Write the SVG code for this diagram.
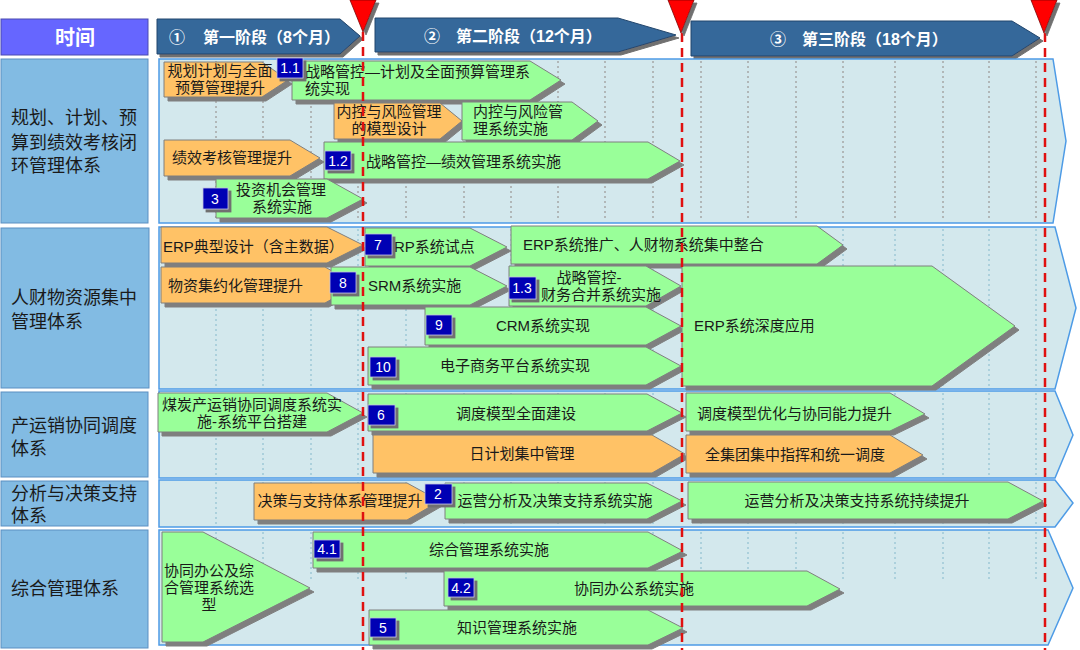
<svg xmlns="http://www.w3.org/2000/svg" width="1080" height="650" viewBox="0 0 1080 650">
<defs>
<filter id="sh" x="-0.05" y="-0.1" width="1.15" height="1.4">
<feFlood flood-color="#7f7f7f"/><feComposite in2="SourceAlpha" operator="in"/><feOffset dx="4" dy="4" result="s"/>
<feMerge><feMergeNode in="s"/><feMergeNode in="SourceGraphic"/></feMerge></filter>
<filter id="sh2" x="-0.1" y="-0.1" width="1.3" height="1.4">
<feFlood flood-color="#6f6f6f"/><feComposite in2="SourceAlpha" operator="in"/><feOffset dx="3" dy="3" result="s"/>
<feMerge><feMergeNode in="s"/><feMergeNode in="SourceGraphic"/></feMerge></filter>
<style>
text{font-family:"Liberation Sans","Noto Sans CJK SC",sans-serif;}
.g{fill:#99ff99;stroke:#7f7f7f;stroke-width:1;filter:url(#sh);}
.o{fill:#ffc266;stroke:#7f7f7f;stroke-width:1;filter:url(#sh);}
.t{font-size:15px;fill:#1a1a1a;}
.m{text-anchor:middle;}
.b{fill:#0000b4;stroke:#c0c0e0;stroke-width:0.8;filter:url(#sh2);}
.bt{font-family:"Liberation Sans",sans-serif;font-size:14px;fill:#ffffff;text-anchor:middle;}
.panel{fill:#d3e8ed;stroke:#4d9be6;stroke-width:1.5;}
.lab{fill:#82bbe3;stroke:#5b8fc2;stroke-width:1;}
.lt{font-size:18px;fill:#1a1a1a;}
.ph{fill:#35679a;stroke:#24476d;stroke-width:1;filter:url(#sh2);}
.pt{font-size:16px;font-weight:bold;fill:#ffffff;}
.dot1{stroke:#a6a6a6;stroke-width:1.5;stroke-dasharray:2,3;fill:none;}
.dot2{stroke:#9ec8d6;stroke-width:1.5;stroke-dasharray:2,3;fill:none;}
.ms{stroke:#e01010;stroke-width:2.5;stroke-dasharray:9,6;fill:none;}
.tri{fill:#ff0000;stroke:#800000;stroke-width:0.8;filter:url(#sh2);}
</style>
</defs>
<rect x="0" y="0" width="1080" height="650" fill="#ffffff"/>

<!-- header -->
<g id="time-header">
<rect x="1" y="19" width="147" height="36" fill="#6666ff" stroke="#4a4ab0" stroke-width="1"/>
<text x="75" y="45" font-size="20" font-weight="bold" fill="#ffffff" text-anchor="middle">时间</text>
</g>
<g id="phase1">
<polygon class="ph" points="157,19 340,19 360,36 340,54 157,54"/>
<text class="pt" y="43"><tspan x="169">①</tspan><tspan x="203">第一阶段（8个月）</tspan></text>
</g>
<g id="phase2">
<polygon class="ph" points="375,18 618,18 676,35 618,52 375,52"/>
<text class="pt" y="42"><tspan x="424">②</tspan><tspan x="456">第二阶段（12个月）</tspan></text>
</g>
<g id="phase3">
<polygon class="ph" points="691,21 1012,21 1040,38 1012,56 691,56"/>
<text class="pt" y="45"><tspan x="770">③</tspan><tspan x="802">第三阶段（18个月）</tspan></text>
</g>

<!-- row labels -->
<g id="label-row1"><rect class="lab" x="1" y="59" width="147" height="164"/>
<text class="lt"><tspan x="11" y="124">规划、计划、预</tspan><tspan x="11" y="149">算到绩效考核闭</tspan><tspan x="11" y="172">环管理体系</tspan></text></g>
<g id="label-row2"><rect class="lab" x="1" y="228" width="148" height="160"/>
<text class="lt"><tspan x="11" y="304">人财物资源集中</tspan><tspan x="11" y="328">管理体系</tspan></text></g>
<g id="label-row3"><rect class="lab" x="1" y="392" width="147" height="85"/>
<text class="lt"><tspan x="11" y="432">产运销协同调度</tspan><tspan x="11" y="455">体系</tspan></text></g>
<g id="label-row4"><rect class="lab" x="1" y="481" width="147" height="45"/>
<text class="lt"><tspan x="11" y="500">分析与决策支持</tspan><tspan x="11" y="522">体系</tspan></text></g>
<g id="label-row5"><rect class="lab" x="1" y="530" width="147" height="118"/>
<text class="lt" x="11" y="595">综合管理体系</text></g>

<!-- row panels -->
<g id="panels">
<polygon class="panel" points="159,59 1053,59 1066,141 1053,223 159,223"/>
<polygon class="panel" points="159,227 1055,227 1076,308 1055,389 159,389"/>
<polygon class="panel" points="159,391 1055,391 1073,435 1055,478 159,478"/>
<polygon class="panel" points="159,480 1055,480 1073,503 1055,527 159,527"/>
<polygon class="panel" points="159,530 1048,530 1073,588 1048,645 159,645"/>
</g>

<g id="grid">
<path class="dot1" d="M216,61V221M263,61V221M311,61V221M358,61V221M406,61V221M464,61V221M511,61V221M558,61V221M605,61V221M653,61V221M701,61V221M748,61V221M796,61V221M843,61V221M895,61V221M943,61V221M989,61V221M1036,61V221"/>
<path class="dot2" d="M216,229V387M263,229V387M311,229V387M358,229V387M406,229V387M464,229V387M511,229V387M558,229V387M605,229V387M653,229V387M701,229V387M748,229V387M796,229V387M843,229V387M895,229V387M943,229V387M989,229V387M1036,229V387"/>
<path class="dot2" d="M216,393V476M263,393V476M311,393V476M358,393V476M406,393V476M464,393V476M511,393V476M558,393V476M605,393V476M653,393V476M701,393V476M748,393V476M796,393V476M843,393V476M895,393V476M943,393V476M989,393V476M1036,393V476"/>
<path class="dot2" d="M216,482V525M263,482V525M311,482V525M358,482V525M406,482V525M464,482V525M511,482V525M558,482V525M605,482V525M653,482V525M701,482V525M748,482V525M796,482V525M843,482V525M895,482V525M943,482V525M989,482V525M1036,482V525"/>
<path class="dot2" d="M216,532V580M263,532V580M311,532V580M358,532V580M406,532V580M464,532V580M511,532V580M558,532V580M605,532V580M653,532V580M701,532V580M748,532V580M796,532V580M843,532V580M895,532V580M943,532V580M989,532V580M1036,532V580"/>
</g>

<!-- row 1 -->
<g id="n-plan-budget"><polygon class="o" points="164,62 262,62 288,80 262,97 164,97"/>
<text class="t m"><tspan x="220" y="76">规划计划与全面</tspan><tspan x="220" y="93">预算管理提升</tspan></text></g>
<g id="n-strategy-plan"><polygon class="g" points="292,61 530,61 561,80 530,100 292,100"/>
<text class="t"><tspan x="305" y="77">战略管控—计划及全面预算管理系</tspan><tspan x="305" y="94">统实现</tspan></text></g>
<g id="b-1-1"><rect class="b" x="277" y="58" width="26" height="20"/><text class="bt" x="290" y="73">1.1</text></g>
<g id="n-risk-model"><polygon class="o" points="334,103 440,103 462,121 440,139 334,139"/>
<text class="t m"><tspan x="389" y="117">内控与风险管理</tspan><tspan x="389" y="134">的模型设计</tspan></text></g>
<g id="n-risk-system"><polygon class="g" points="462,102 572,102 598,121 572,140 462,140"/>
<text class="t"><tspan x="473" y="117">内控与风险管</tspan><tspan x="473" y="134">理系统实施</tspan></text></g>
<g id="n-perf-up"><polygon class="o" points="164,140 290,140 320,158 290,176 164,176"/>
<text class="t" x="172" y="163">绩效考核管理提升</text></g>
<g id="n-strategy-perf"><polygon class="g" points="324,142 648,142 680,161 648,179 324,179"/>
<text class="t" x="366" y="167">战略管控—绩效管理系统实施</text></g>
<g id="b-1-2"><rect class="b" x="325" y="151" width="26" height="19"/><text class="bt" x="338" y="166">1.2</text></g>
<g id="n-invest"><polygon class="g" points="216,179 327,179 363,199 327,218 216,218"/>
<text class="t m"><tspan x="281" y="195">投资机会管理</tspan><tspan x="282" y="212">系统实施</tspan></text></g>
<g id="b-3"><rect class="b" x="203" y="188" width="25" height="21"/><text class="bt" x="215" y="204">3</text></g>

<!-- row 2 -->
<g id="n-erp-design"><polygon class="o" points="161,227 327,227 363,245 327,263 161,263"/>
<text class="t" x="163" y="252">ERP典型设计（含主数据）</text></g>
<g id="n-erp-pilot"><polygon class="g" points="365,228 470,228 507,247 470,266 365,266"/>
<text class="t" x="394" y="252">RP系统试点</text></g>
<g id="b-7"><rect class="b" x="365" y="234" width="27" height="21"/><text class="bt" x="378" y="250">7</text></g>
<g id="n-erp-rollout"><polygon class="g" points="511,226 817,226 843,245 817,264 511,264"/>
<text class="t" x="523" y="250">ERP系统推广、人财物系统集中整合</text></g>
<g id="n-material"><polygon class="o" points="161,267 325,267 357,285 325,303 161,303"/>
<text class="t" x="168" y="291">物资集约化管理提升</text></g>
<g id="n-srm"><polygon class="g" points="331,267 470,267 507,286 470,305 331,305"/>
<text class="t" x="368" y="291">SRM系统实施</text></g>
<g id="b-8"><rect class="b" x="330" y="272" width="26" height="21"/><text class="bt" x="343" y="288">8</text></g>
<g id="n-fin-consol"><polygon class="g" points="509,266 646,266 681,286 646,306 509,306"/>
<text class="t m"><tspan x="589" y="283">战略管控-</tspan><tspan x="601" y="300">财务合并系统实施</tspan></text></g>
<g id="b-1-3"><rect class="b" x="509" y="277" width="27" height="22"/><text class="bt" x="522" y="293">1.3</text></g>
<g id="n-crm"><polygon class="g" points="425,307 646,307 681,326 646,345 425,345"/>
<text class="t m" x="543" y="331">CRM系统实现</text></g>
<g id="b-9"><rect class="b" x="426" y="315" width="26" height="20"/><text class="bt" x="439" y="330">9</text></g>
<g id="n-ecommerce"><polygon class="g" points="368,347 646,347 681,366 646,385 368,385"/>
<text class="t m" x="515" y="371">电子商务平台系统实现</text></g>
<g id="b-10"><rect class="b" x="370" y="357" width="26" height="20"/><text class="bt" x="383" y="372">10</text></g>
<g id="n-erp-deep"><polygon class="g" points="682,266 932,266 1015,326 932,386 682,386"/>
<text class="t" x="694" y="331">ERP系统深度应用</text></g>

<!-- row 3 -->
<g id="n-coal-dispatch"><polygon class="g" points="158,393 327,393 363,413 327,432 158,432"/>
<text class="t m"><tspan x="252" y="410">煤炭产运销协同调度系统实</tspan><tspan x="252" y="427">施-系统平台搭建</tspan></text></g>
<g id="n-dispatch-model"><polygon class="g" points="368,394 647,394 682,413 647,431 368,431"/>
<text class="t m" x="516" y="419">调度模型全面建设</text></g>
<g id="b-6"><rect class="b" x="368" y="405" width="27" height="20"/><text class="bt" x="381" y="420">6</text></g>
<g id="n-daily-plan"><polygon class="o" points="373,435 652,435 685,454 652,473 373,473"/>
<text class="t m" x="522" y="459">日计划集中管理</text></g>
<g id="n-dispatch-opt"><polygon class="g" points="686,393 890,393 925,414 890,431 686,431"/>
<text class="t" x="697" y="419">调度模型优化与协同能力提升</text></g>
<g id="n-group-command"><polygon class="o" points="686,435 890,435 923,455 890,473 686,473"/>
<text class="t m" x="795" y="460">全集团集中指挥和统一调度</text></g>

<!-- row 4 -->
<g id="n-decision-up"><polygon class="o" points="254,483 407,483 440,501 407,520 254,520"/>
<text class="t m" x="340" y="506">决策与支持体系管理提升</text></g>
<g id="n-ops-analysis"><polygon class="g" points="445,483 647,483 682,501 647,519 445,519"/>
<text class="t m" x="555" y="506">运营分析及决策支持系统实施</text></g>
<g id="b-2"><rect class="b" x="425" y="484" width="27" height="20"/><text class="bt" x="438" y="499">2</text></g>
<g id="n-ops-improve"><polygon class="g" points="688,482 1008,482 1043,501 1008,519 688,519"/>
<text class="t m" x="857" y="506">运营分析及决策支持系统持续提升</text></g>

<!-- row 5 -->
<g id="n-oa-select"><polygon class="g" points="162,532 203,532 310,588 203,642 162,642"/>
<text class="t m"><tspan x="209" y="576">协同办公及综</tspan><tspan x="209" y="593">合管理系统选</tspan><tspan x="209" y="610">型</tspan></text></g>
<g id="n-integrated"><polygon class="g" points="313,532 648,532 683,551 648,568 313,568"/>
<text class="t m" x="489" y="555">综合管理系统实施</text></g>
<g id="b-4-1"><rect class="b" x="314" y="540" width="26" height="18"/><text class="bt" x="327" y="554">4.1</text></g>
<g id="n-oa"><polygon class="g" points="444,571 807,571 840,589 807,606 444,606"/>
<text class="t m" x="634" y="594">协同办公系统实施</text></g>
<g id="b-4-2"><rect class="b" x="448" y="578" width="26" height="19"/><text class="bt" x="461" y="593">4.2</text></g>
<g id="n-knowledge"><polygon class="g" points="369,610 648,610 683,628 648,645 369,645"/>
<text class="t m" x="517" y="633">知识管理系统实施</text></g>
<g id="b-5"><rect class="b" x="370" y="618" width="26" height="19"/><text class="bt" x="383" y="633">5</text></g>

<!-- milestones -->
<g id="milestones">
<path class="ms" d="M363,32V650M682,33V650M1045,33V650"/>
<polygon class="tri" points="350,0 376,0 363,32"/>
<polygon class="tri" points="668,0 694,0 681,33"/>
<polygon class="tri" points="1031,0 1057,0 1044,33"/>
</g>
</svg>
